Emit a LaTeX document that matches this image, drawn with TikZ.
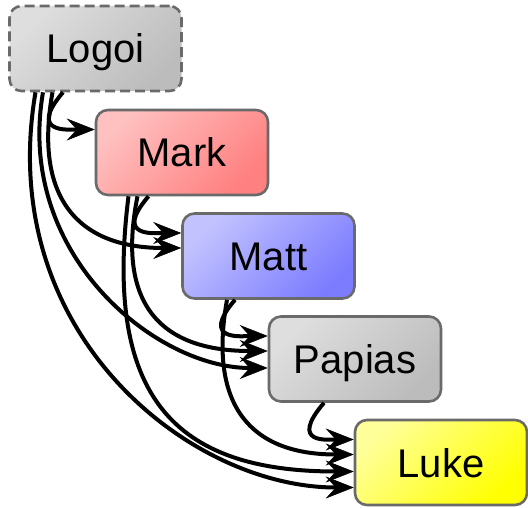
\documentclass[tikz,border=0pt]{standalone}
\usepackage{fontspec}
\setmainfont{Liberation Sans}
\usetikzlibrary{arrows.meta,calc}
\definecolor{boxline}{HTML}{6A6A6A}
\definecolor{grayA}{HTML}{DEDEDE}
\definecolor{grayB}{HTML}{BCBCBC}
\definecolor{redA}{HTML}{FFC0C0}
\definecolor{redB}{HTML}{FF8080}
\definecolor{blueA}{HTML}{C2C2FF}
\definecolor{blueB}{HTML}{7C7CFF}
\definecolor{yelA}{HTML}{FFFF99}
\definecolor{yelB}{HTML}{FFFF00}
\begin{document}
\begin{tikzpicture}[x=1pt,y=-1pt,
  box/.style={rounded corners=12pt, draw=boxline, line width=2.6pt,
    minimum width=172pt, minimum height=85pt, inner sep=0pt,
    text height=29pt, text depth=0pt, font=\fontsize{40}{48}\selectfont},
  fillgray/.style={top color=grayA, bottom color=grayB, shading angle=45},
  fillred/.style={top color=redA, bottom color=redB, shading angle=45},
  fillblue/.style={top color=blueA, bottom color=blueB, shading angle=45},
  fillyel/.style={top color=yelA, bottom color=yelB, shading angle=45},
  link/.style={line width=4pt,
    -{Stealth[length=28pt,width=22pt,inset=10pt,line width=0.5pt]}},
]
\useasboundingbox (0,0) rectangle (528,508);
\node[box,fillgray,dash pattern=on 10pt off 5pt] (logoi) at (95.5,48.5) {Logoi};
\node[box,fillred] (mark) at (182,152.5) {Mark};
\node[box,fillblue] (matt) at (268.5,256) {Matt};
\node[box,fillgray] (papias) at (355,359) {Papias};
\node[box,fillyel] (luke) at (441,462.5) {Luke};
% rank 1
\draw[link] ($(logoi.south)+(-32.5,0)$) .. controls +(-36,42) and +(-25,0) .. ($(mark.west)+(0,-23)$);
\draw[link] ($(mark.south)+(-33.5,0)$) .. controls +(-36,42) and +(-25,0) .. ($(matt.west)+(0,-23)$);
\draw[link] ($(matt.south)+(-33.5,0)$) .. controls +(-36,42) and +(-25,0) .. ($(papias.west)+(0,-23)$);
\draw[link] ($(papias.south)+(-31,0)$) .. controls +(-36,42) and +(-25,0) .. ($(luke.west)+(0,-23)$);
% rank 2
\draw[link] ($(logoi.south)+(-43,0)$) .. controls +(-19,106) and +(-103,0) .. ($(matt.west)+(0,-8)$);
\draw[link] ($(mark.south)+(-44.5,0)$) .. controls +(-22,110) and +(-105,0) .. ($(papias.west)+(0,-8)$);
\draw[link] ($(matt.south)+(-41.5,0)$) .. controls +(-19,106) and +(-103,0) .. ($(luke.west)+(0,-8)$);
% rank 3
\draw[link] ($(logoi.south)+(-52.5,0)$) .. controls +(-28,162) and +(-112,0) .. ($(papias.west)+(0,9)$);
\draw[link] ($(mark.south)+(-53.5,0)$) .. controls +(-25,200) and +(-180,0) .. ($(luke.west)+(0,9)$);
% rank 4
\draw[link] ($(logoi.south)+(-60,0)$) .. controls +(-41,240) and +(-165,0) .. ($(luke.west)+(0,25)$);
\end{tikzpicture}
\end{document}
